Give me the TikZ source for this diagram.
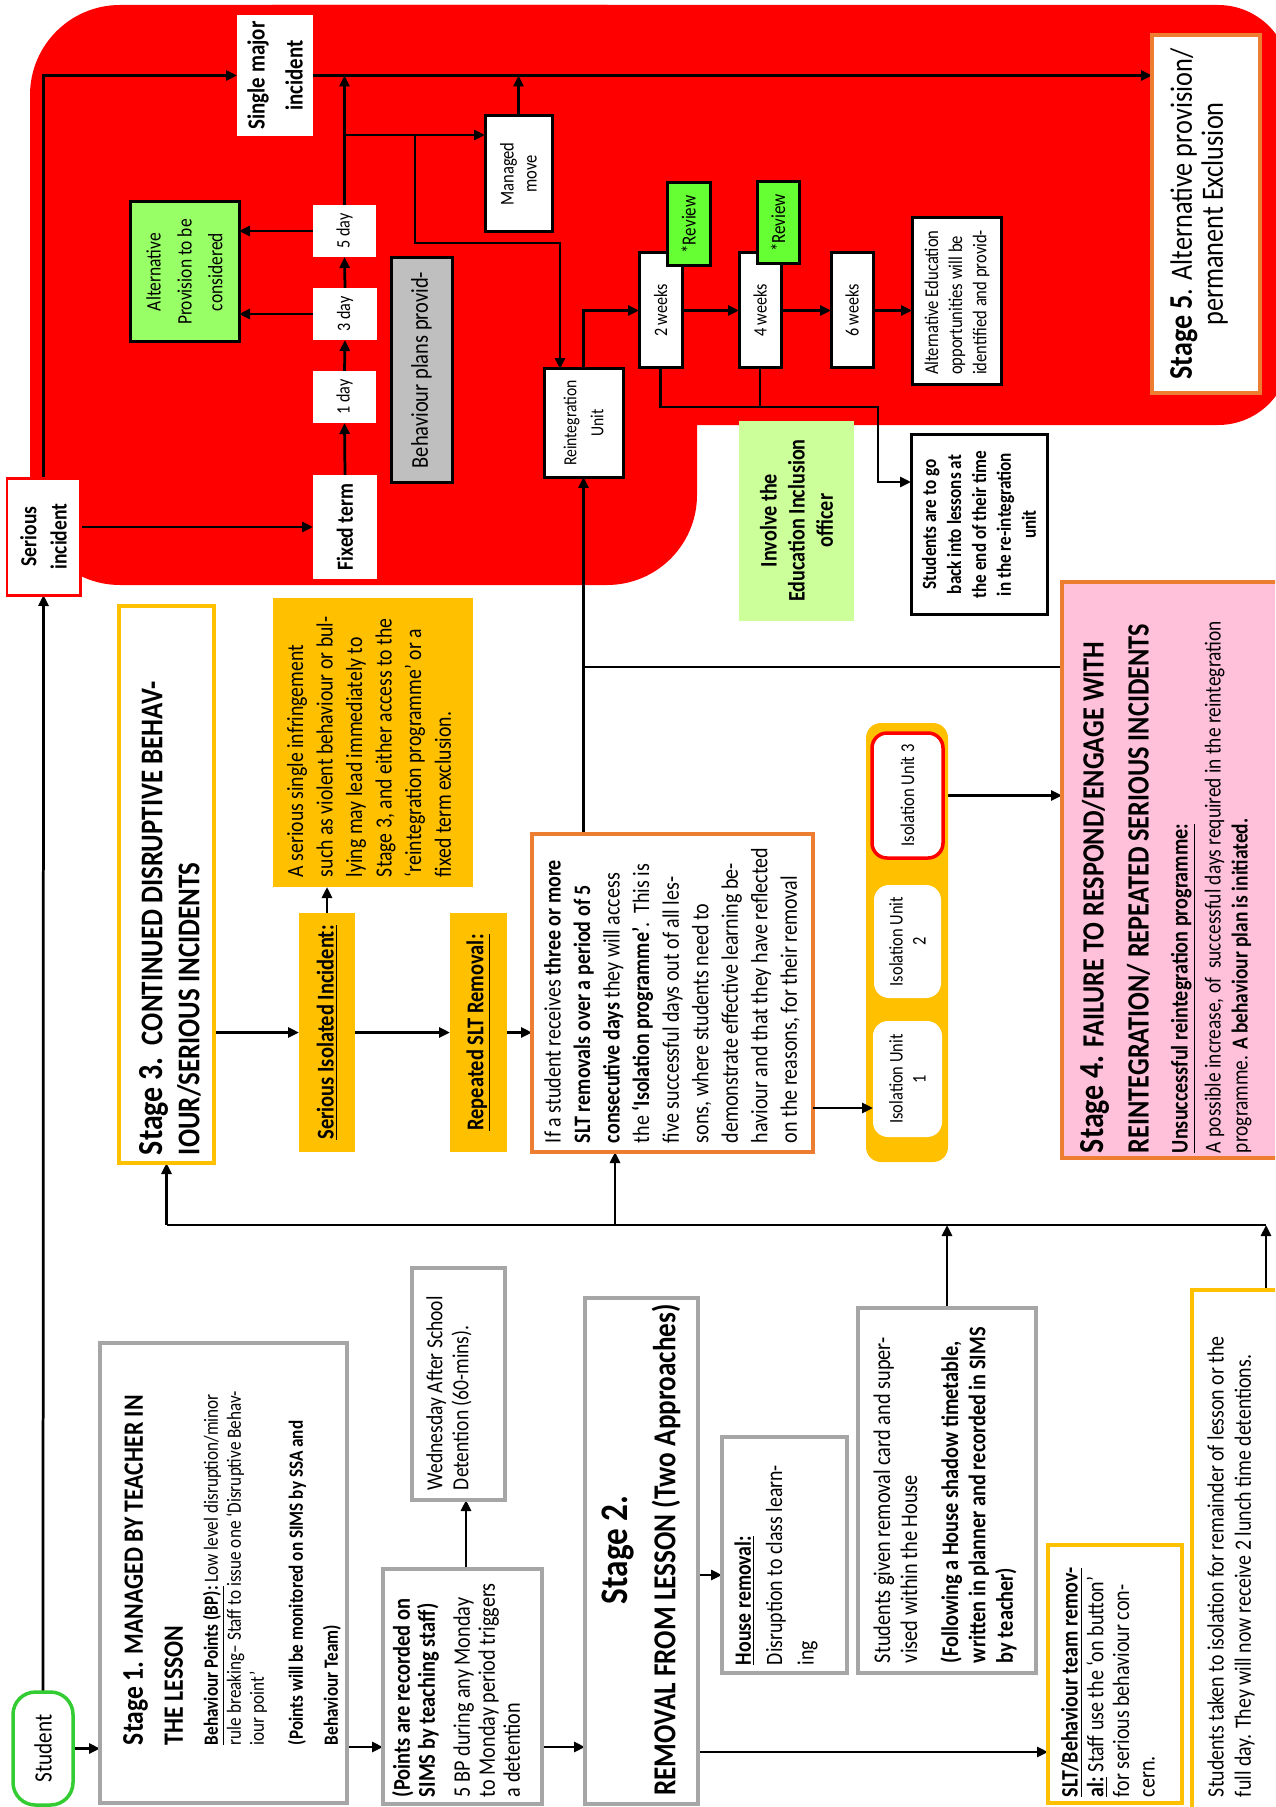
\documentclass[tikz,border=0pt]{standalone}
\usepackage{fontspec}
\setmainfont{Carlito}[FakeStretch=0.85]
\usepackage{graphicx}
\usetikzlibrary{arrows.meta,backgrounds}
\newlength\pxu
\setlength\pxu{0.02cm}
\newcommand\rt[2]{\rotatebox{90}{\begin{minipage}{#1\pxu}#2\end{minipage}}}
\newcommand\fsz[2]{\fontsize{#1}{#2}\selectfont}
\definecolor{redc}{RGB}{255,0,0}
\definecolor{altg}{RGB}{153,255,102}
\definecolor{revg}{RGB}{102,255,51}
\definecolor{lgreen}{RGB}{204,255,153}
\definecolor{yelf}{RGB}{255,192,0}
\definecolor{grayf}{RGB}{191,191,191}
\definecolor{grayb}{RGB}{166,166,166}
\definecolor{orb}{RGB}{237,125,49}
\definecolor{pinkc}{RGB}{255,192,217}
\definecolor{stg}{RGB}{51,204,51}
\tikzset{
 rect/.style n args={4}{at={({(#1+#3)/2},{(#2+#4)/2})}, minimum width={(#3-#1)*0.02cm}, minimum height={(#4-#2)*0.02cm}},
 bx/.style={inner sep=0pt, outer sep=0pt, line width=0.06cm},
 wb/.style={bx, draw=black, fill=white},
 wfill/.style={bx, fill=white},
 gbox/.style={bx, draw=grayb, line width=0.08cm, fill=white},
 ybox/.style={bx, draw=yelf, line width=0.08cm, fill=white},
 obox/.style={bx, draw=orb, line width=0.08cm, fill=white},
 txt/.style={inner sep=0pt, outer sep=0pt},
 ltxt/.style={txt, anchor=south},
 arr/.style={-{Triangle[length=0.22cm,width=0.2cm]}, line width=0.055cm},
 ln/.style={line width=0.055cm},
}
\begin{document}
\begin{tikzpicture}[x=0.02cm,y=-0.02cm]
\useasboundingbox (0,0) rectangle (1275,1807);
\clip (0,0) rectangle (1275,1807);

% ---------- red zone boxes ----------
\node[wfill, rect={237}{15}{313}{136}] (single) {\rt{118}{\centering\fsz{14pt}{21.6pt}\bfseries Single major\\incident}};
\node[bx, draw=redc, fill=white, rect={7}{478}{80}{595}] (serious) {\rt{112}{\centering\fsz{13.1pt}{17.1pt}\bfseries Serious\\incident}};
\node[wfill, rect={313}{475}{377}{579}] (fixed) {\rotatebox{90}{\fsz{13.1pt}{15pt}\bfseries Fixed term}};
\node[wfill, rect={313}{371}{376}{423}] (d1) {\rotatebox{90}{\fsz{10.8pt}{13pt}1 day}};
\node[wfill, rect={313}{288}{377}{340}] (d3) {\rotatebox{90}{\fsz{10.8pt}{13pt}3 day}};
\node[wfill, rect={313}{205}{376}{257}] (d5) {\rotatebox{90}{\fsz{10.8pt}{13pt}5 day}};
\node[wb, fill=altg, rect={130}{202}{239}{342}] (altprov) {\rt{135}{\centering\fsz{11.7pt}{17.6pt}Alternative\\Provision to be\\considered}};
\node[wb, fill=grayf, rect={391}{258}{452}{482}] (bplan) {\rotatebox{90}{\fsz{13.7pt}{16pt}Behaviour plans provid-}};
\node[wb, rect={485}{116}{552}{232}] (mm) {\rt{110}{\centering\fsz{11.1pt}{13.1pt}Managed\\move}};
\node[wb, rect={544}{369}{623}{477}] (reint) {\rt{104}{\centering\fsz{10.5pt}{15.4pt}Reintegration\\Unit}};
\node[wb, rect={639}{253}{682}{368}] (w2) {\rotatebox{90}{\fsz{10.8pt}{13pt}2 weeks}};
\node[wb, rect={739}{253}{781}{368}] (w4) {\rotatebox{90}{\fsz{10.8pt}{13pt}4 weeks}};
\node[wb, rect={831}{253}{873}{368}] (w6) {\rotatebox{90}{\fsz{10.8pt}{13pt}6 weeks}};
\node[wb, fill=revg, rect={667}{183}{710}{266}] (rev1) {\rotatebox{90}{\fsz{11.4pt}{13pt}*Review}};
\node[wb, fill=revg, rect={757}{182}{799}{264}] (rev2) {\rotatebox{90}{\fsz{11.4pt}{13pt}*Review}};
\node[wb, rect={912}{218}{1001}{385}] (altedu) {};
\node[ltxt] (altedut) at (957,375) {\rt{175}{\raggedright\fsz{11.1pt}{13.7pt}Alternative Education\\opportunities will be\\identified and provid-}};
\node[wb, rect={911}{441}{1047}{608}] (stud) {\rt{180}{\centering\fsz{11.5pt}{14.2pt}\bfseries Students are to go\\back into lessons at\\the end of their time\\in the re-integration\\unit}};
\node[bx, fill=lgreen, rect={739}{430}{854}{611}] (involve) {\rt{200}{\centering\fsz{13.5pt}{16pt}\bfseries Involve the\\Education Inclusion\\officer}};
\node[obox, line width=0.09cm, rect={1152}{35}{1260}{393}] (st5) {};
\node[txt] (st5t) at (1199,214) {\rt{420}{\centering\fsz{17.6pt}{17.6pt}{\bfseries\fsz{18.8pt}{17.6pt}Stage 5}. Alternative provision/\\permanent Exclusion}};

% ---------- stage 3 area ----------
\node[ybox, rect={119}{606}{214}{1163}] (st3) {};
\node[ltxt] (st3t) at (170,1155) {\rt{600}{\raggedright\bfseries\fsz{18pt}{21pt}{\fsz{20pt}{21pt}Stage 3.}\ \ CONTINUED DISRUPTIVE BEHAV-\\IOUR/SERIOUS INCIDENTS}};
\node[bx, fill=yelf, rect={273}{598}{473}{887}] (sbox) {};
\node[ltxt] (sboxt) at (369,877) {\rt{330}{\raggedright\fsz{13.2pt}{16.8pt}A serious single infringement\\such as violent behaviour or bul-\\lying may lead immediately to\\Stage 3, and either access to the\\‘reintegration programme’ or a\\fixed term exclusion.}};
\node[bx, fill=yelf, rect={299}{913}{355}{1152}] (sii) {\rotatebox{90}{\fsz{13.7pt}{16pt}\bfseries\underline{Serious Isolated Incident:}}};
\node[bx, fill=yelf, rect={450}{913}{507}{1152}] (rslt) {\rotatebox{90}{\fsz{13.7pt}{16pt}\bfseries\underline{Repeated SLT Removal:}}};
\node[obox, rect={532}{834}{813}{1152}] (isop) {};
\node[ltxt] (isopt) at (672,1143) {\rt{380}{\raggedright\fsz{13.4pt}{16.8pt}If a student receives \textbf{three or more}\\\textbf{SLT removals over a period of 5}\\\textbf{consecutive days} they will access\\the \textbf{‘Isolation programme’}.\ \ This is\\five successful days out of all les-\\sons, where students need to\\demonstrate effective learning be-\\haviour and that they have reflected\\on the reasons, for their removal}};

\node[bx, fill=yelf, rounded corners=0.3cm, rect={866}{723}{948}{1162}] (iso) {};
\node[bx, fill=white, rounded corners=0.3cm, rect={873}{1021}{942}{1137}] (iu1) {\rt{112}{\centering\fsz{11pt}{13.1pt}Isolation Unit\\1}};
\node[bx, fill=white, rounded corners=0.3cm, rect={874}{885}{941}{998}] (iu2) {\rt{112}{\centering\fsz{11pt}{13.1pt}Isolation Unit\\2}};
\node[bx, draw=redc, line width=0.07cm, fill=white, rounded corners=0.3cm, rect={872}{733}{943}{858}] (iu3) {\rotatebox{90}{\fsz{11.1pt}{13pt}Isolation Unit 3}};

\node[bx, draw=orb, line width=0.08cm, fill=pinkc, rect={1062}{582}{1300}{1158}] (st4) {};
\node[ltxt] (st4t) at (1166,1153) {\rt{640}{\raggedright{\bfseries\fsz{17.6pt}{25.6pt}{\fsz{20pt}{25.6pt}Stage 4.} FAILURE TO RESPOND/ENGAGE WITH\\REINTEGRATION/ REPEATED SERIOUS INCIDENTS\par}\vspace{6.8pt}{\bfseries\fsz{13.5pt}{15.4pt}\underline{Unsuccessful reintegration programme:}\par}\vspace{3.4pt}{\fsz{13pt}{15.4pt}A possible increase, of\ \ successful days required in the reintegration\\programme. \textbf{A behaviour plan is initiated.}\par}}};

% ---------- stage 1 / 2 area ----------
\node[gbox, rect={100}{1343}{347}{1803}] (s1) {};
\node[ltxt] (s1t) at (232,1745) {\rt{420}{\raggedright{\bfseries\fsz{15.9pt}{22.8pt}{\fsz{17.1pt}{22.8pt}Stage 1.} MANAGED BY TEACHER IN\\THE LESSON\par}\vspace{6.8pt}{\fsz{11.5pt}{13.1pt}\textbf{\underline{Behaviour Points (BP):}} Low level disruption/minor\\rule breaking– Staff to issue one ‘Disruptive Behav-\\iour point’\par}\vspace{2.3pt}{\bfseries\fsz{11.5pt}{19.9pt}(Points will be monitored on SIMS by SSA and\\Behaviour Team)\par}}};
\node[gbox, rect={383}{1569}{542}{1804}] (pts) {};
\node[ltxt] (ptst) at (456,1797) {\rt{300}{\raggedright{\bfseries\fsz{13.7pt}{14.2pt}(Points are recorded on\\SIMS by teaching staff)\par}\vspace{5.7pt}{\fsz{13.5pt}{14.2pt}5 BP during any Monday\\to Monday period triggers\\a detention\par}}};
\node[gbox, rect={412}{1268}{505}{1500}] (wed) {};
\node[ltxt] (wedt) at (449,1490) {\rt{260}{\raggedright\fsz{13.1pt}{14.8pt}Wednesday After School\\Detention (60-mins).}};
\node[gbox, rect={585}{1298}{698}{1804}] (st2) {};
\node[txt] (st2t) at (641,1550) {\rt{560}{\centering\bfseries\fsz{18.2pt}{27.3pt}{\fsz{22.2pt}{27.3pt}Stage 2.}\\REMOVAL FROM LESSON (Two Approaches)}};
\node[gbox, rect={722}{1437}{847}{1673}] (house) {};
\node[ltxt] (houset) at (776,1665) {\rt{280}{\raggedright\fsz{13.3pt}{17.9pt}\textbf{\underline{House removal:}}\\Disruption to class learn-\\ing}};
\node[gbox, rect={858}{1308}{1036}{1673}] (card) {};
\node[ltxt] (cardt) at (945,1663) {\rt{420}{\raggedright{\fsz{13.6pt}{15.4pt}Students given removal card and super-\\vised within the House\par}\vspace{7.7pt}{\bfseries\fsz{13.6pt}{15.6pt}(Following a House shadow timetable,\\written in planner and recorded in SIMS\\by teacher)\par}}};
\node[ybox, rect={1048}{1545}{1182}{1803}] (slt) {};
\node[ltxt] (sltt) at (1108,1797) {\rt{300}{\raggedright\fsz{13.4pt}{14.6pt}\textbf{\underline{SLT/Behaviour team remov-}}\\\textbf{\underline{al:}} Staff use the ‘on button’\\for serious behaviour con-\\cern.}};
\node[ybox, rect={1192}{1290}{1300}{1830}] (bot) {};
\node[ltxt] (bott) at (1231,1797) {\rt{580}{\raggedright\fsz{13.3pt}{15.4pt}Students taken to isolation for remainder of lesson or the\\full day. They will now receive 2 lunch time detentions.}};
\node[bx, draw=stg, line width=0.07cm, fill=white, rounded corners=0.45cm, rect={13}{1692}{73}{1805}] (student) {\rotatebox{90}{\fsz{14.2pt}{16pt}Student}};

% helper coordinates
\coordinate (j1) at (344.5,135);
\coordinate (j2) at (415,135);
\coordinate (k1) at (560,243);
\coordinate (k2) at (878,407);
\coordinate (h482) at (0,482);
\coordinate (h667) at (0,667);
\coordinate (h1108) at (0,1108);
\coordinate (busL) at (166.5,1225);
\coordinate (busR) at (1266,1225);
\coordinate (v615) at (615,1225);
\coordinate (h1747) at (0,1747);
\coordinate (v466) at (466,0);
\coordinate (h1575) at (0,1575);
\coordinate (h1752) at (0,1752);

% arrow drawn over the isolation container
\draw[arr] (isop.east |- h1108) -- (iu1.west |- h1108);

\begin{pgfonlayer}{background}
\fill[white] (0,0) rectangle (1275,1807);
\fill[redc, rounded corners=1.8cm] (30,5) rectangle (697,585);
\fill[redc, rounded corners=1.44cm] (200,5) rectangle (1290,425);

\draw[arr] (student.east) -- (student.east -| s1.west);
\draw[arr] (student.north) -- (serious.south);
\draw[arr] (serious.north) |- (single.west);
\draw[arr] (serious.east |- fixed.west) -- (fixed.west);
\draw[arr] (fixed.north) -- (d1.south);
\draw[arr] (d1.north) -- (d3.south);
\draw[arr] (d3.north) -- (d5.south);
\draw[arr] (d5.west) -- (d5.west -| altprov.east);
\draw[arr] (d3.west) -- (d3.west -| altprov.east);
\draw[arr] (single.east) -- (single.east -| st5.west);
\draw[arr] (d5.north) -- (d5.north |- single.east);
\draw[arr] (mm.north) -- (mm.north |- single.east);
\draw[arr] (j1) -- (j1 -| mm.west);
\draw[arr] (j2) |- (k1) -- (k1 |- reint.north);
\draw[arr] (reint.north) |- (w2.west);
\draw[arr] (w2.east) -- (w4.west);
\draw[arr] (w4.east) -- (w6.west);
\draw[arr] (w6.east) -- (w6.east -| altedu.west);
\draw[arr] (w2.south) |- (k2) |- (stud.west |- h482);
\draw[ln] (w4.south) -- (w4.south |- k2);
\draw[arr] (isop.north -| reint.south) -- (reint.south);
\draw[ln] (reint.south |- h667) -- (st4.west |- h667);
\draw[arr] (sii.west -| st3.east) -- (sii.west);
\draw[arr] (sii.east) -- (rslt.west);
\draw[arr] (rslt.east) -- (rslt.east -| isop.west);
\draw[arr] (sii.north) -- (sii.north |- sbox.south);
\draw[arr] (iu3.east) -- (iu3.east -| st4.west);
\draw[ln] (busL) -- (busR);
\draw[arr] (busL) -- (st3.south);
\draw[arr] (v615) -- (v615 |- isop.south);
\draw[arr] (card.north) -- (card.north |- busL);
\draw[arr] (busR |- bot.north) -- (busR);
\draw[arr] (s1.east |- h1747) -- (pts.west |- h1747);
\draw[arr] (v466 |- pts.north) -- (v466 |- wed.south);
\draw[arr] (pts.east |- h1747) -- (st2.west |- h1747);
\draw[arr] (st2.east |- h1575) -- (house.west |- h1575);
\draw[arr] (st2.east |- h1752) -- (slt.west |- h1752);
\end{pgfonlayer}
\end{tikzpicture}
\end{document}
